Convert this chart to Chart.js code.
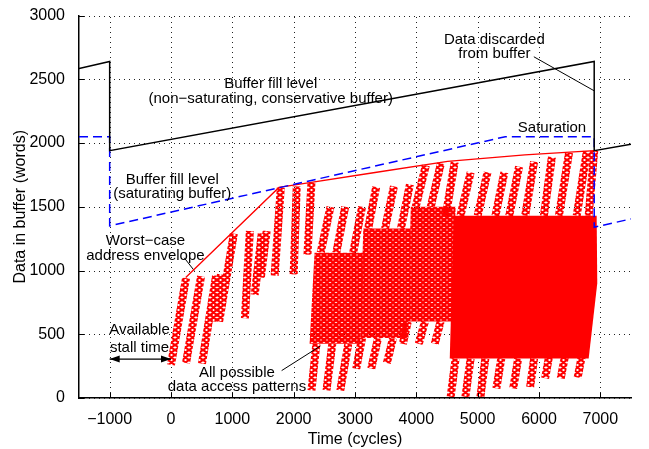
<!DOCTYPE html>
<html>
<head>
<meta charset="utf-8">
<script src="https://cdn.jsdelivr.net/npm/chart.js@4.4.0/dist/chart.umd.min.js"></script>
<style>
    body { margin: 0; background: #fff; }
</style>
</head>
<body>
<canvas id="myChart" width="649" height="449"></canvas>
<script>
// tick values
var xTicks = [-1000, 0, 1000, 2000, 3000, 4000, 5000, 6000, 7000];
var yTicks = [0, 500, 1000, 1500, 2000, 2500, 3000];

// buffer fill level, non-saturating (conservative) buffer
var fillTime  = [-1500, -1000, -1000, 6900, 6900, 7500];
var fillLevel = [2585, 2640, 1940, 2640, 1940, 1990];

// buffer fill level, saturating buffer
var satTime  = [-1500, -1000, -1000, 5450, 6900, 6900, 7500];
var satLevel = [2050, 2050, 1350, 2050, 2050, 1340, 1405];

// worst-case address envelope
var envTime  = [240, 1760, 2260, 3300, 4510, 5770, 6900];
var envLevel = [945, 1652, 1690, 1767, 1856, 1908, 1940];

// single access patterns: [start time, start word, end time, end word]
var accessRuns = [
    [0, 260, 245, 940], [245, 275, 490, 955], [505, 270, 735, 960],
    [700, 600, 815, 970], [785, 600, 1025, 1290], [1205, 625, 1285, 1310],
    [1365, 810, 1480, 1290], [1465, 945, 1560, 1310], [1690, 960, 1790, 1650],
    [2000, 970, 2050, 1660], [2225, 1125, 2290, 1690],
    [2440, 1140, 2600, 1500], [2695, 1140, 2840, 1500], [2970, 1140, 3115, 1500],
    [3215, 1330, 3345, 1655], [3490, 1330, 3635, 1660], [3750, 1330, 3895, 1675],
    [3990, 1500, 4155, 1825], [4235, 1500, 4400, 1840], [4480, 1430, 4625, 1850],
    [4720, 1430, 4885, 1770], [5000, 1430, 5160, 1770], [5290, 1430, 5435, 1770],
    [5515, 1430, 5675, 1815], [5775, 1430, 5920, 1855], [6080, 1430, 6210, 1890],
    [6325, 1430, 6490, 1925], [6615, 1430, 6780, 1935], [6810, 1430, 6900, 1940],
    [2290, 60, 2370, 425], [2535, 60, 2630, 425], [2760, 60, 2890, 425],
    [3020, 230, 3115, 470], [3265, 230, 3375, 470], [3520, 275, 3620, 470],
    [3780, 425, 3860, 600], [4040, 425, 4140, 600], [4300, 425, 4395, 600],
    [4560, 10, 4640, 310], [4800, 10, 4885, 310], [5045, 10, 5125, 310],
    [5305, 75, 5385, 310], [5580, 75, 5660, 310], [5855, 85, 5920, 310],
    [6100, 155, 6180, 370], [6355, 155, 6440, 370], [6630, 160, 6715, 370]
];

// overlapping access patterns (corner points)
var overlapRuns = [
    [[2260, 425], [3085, 425], [3150, 1140], [2340, 1140]],
    [[3085, 470], [3860, 470], [3910, 1330], [3135, 1330]],
    [[3860, 600], [4590, 600], [4640, 1500], [3910, 1500]]
];
var saturatedRun = [[4545, 310], [6810, 310], [6950, 900], [6940, 1430], [4610, 1430]];

// available stall time arrow
var stallTime  = [-1000, 0];
var stallLevel = [305, 305];

// annotation leader lines
var leaders = [
    [[216, 1100], [378, 1000]],
    [[1804, 215], [2436, 408]],
    [[5916, 2677], [6900, 2410]]
];

var notes = [
    { text: 'Buffer fill level', t: 1626, v: 2462 },
    { text: '(non\u2212saturating, conservative buffer)', t: 1626, v: 2346 },
    { text: 'Data discarded', t: 5272, v: 2808 },
    { text: 'from buffer', t: 5272, v: 2700 },
    { text: 'Saturation', t: 6212, v: 2123 },
    { text: 'Buffer fill level', t: 21, v: 1715 },
    { text: '(saturating buffer)', t: 21, v: 1600 },
    { text: 'Worst\u2212case', t: -417, v: 1231 },
    { text: 'address envelope', t: -417, v: 1115 },
    { text: 'Available', t: -514, v: 538 },
    { text: 'stall time', t: -514, v: 392 },
    { text: 'All possible', t: 1075, v: 200 },
    { text: 'data access patterns', t: 1075, v: 85 }
];

var FONT = '"Liberation Sans", Arial, Helvetica, sans-serif';

function toPoints(xs, ys) {
    return xs.map(function (x, i) { return { x: x, y: ys[i] }; });
}

// red "x" marker tile
function makeCrossPattern(w, h, lw) {
    var c = document.createElement('canvas');
    c.width = w;
    c.height = h;
    var g = c.getContext('2d');
    g.strokeStyle = '#ff0000';
    g.lineWidth = lw;
    g.beginPath();
    for (var dx = -w; dx <= w; dx += w) {
        for (var dy = -h; dy <= h; dy += h) {
            g.moveTo(dx, dy); g.lineTo(dx + w, dy + h);
            g.moveTo(dx + w, dy); g.lineTo(dx, dy + h);
        }
    }
    g.stroke();
    return g.createPattern(c, 'repeat');
}

var chainPattern = makeCrossPattern(7, 5, 2.2);
var densePattern = makeCrossPattern(6, 5, 2.6);

var datasets = [];

datasets.push({ data: toPoints(fillTime, fillLevel), borderColor: '#000000', borderWidth: 1.5 });
datasets.push({ data: toPoints(satTime, satLevel), borderColor: '#0000ff', borderWidth: 1.5, borderDash: [9, 5] });
datasets.push({ data: toPoints(envTime, envLevel), borderColor: '#ff0000', borderWidth: 1.3 });

leaders.forEach(function (l) {
    datasets.push({ data: l.map(function (p) { return { x: p[0], y: p[1] }; }), borderColor: '#000000', borderWidth: 1 });
});

var arrowIndex = datasets.length;
datasets.push({ data: toPoints(stallTime, stallLevel), borderColor: '#000000', borderWidth: 1.2 });

accessRuns.forEach(function (r) {
    datasets.push({
        data: [{ x: r[0], y: r[1] }, { x: r[2], y: r[3] }],
        borderColor: chainPattern,
        borderWidth: 8,
        borderCapStyle: 'butt'
    });
});

overlapRuns.forEach(function (poly) {
    datasets.push({
        data: poly.map(function (p) { return { x: p[0], y: p[1] }; }),
        borderWidth: 0,
        borderColor: 'rgba(0,0,0,0)',
        backgroundColor: densePattern,
        fill: 'shape'
    });
});

datasets.push({
    data: saturatedRun.map(function (p) { return { x: p[0], y: p[1] }; }),
    borderWidth: 0,
    borderColor: 'rgba(0,0,0,0)',
    backgroundColor: '#ff0000',
    fill: 'shape'
});

var overlay = {
    id: 'overlay',
    beforeDatasetsDraw: function (chart) {
        // dotted grid
        var ctx = chart.ctx;
        var xs = chart.scales.x;
        var ys = chart.scales.y;
        var area = chart.chartArea;
        ctx.save();
        ctx.strokeStyle = '#222';
        ctx.lineWidth = 1;
        ctx.setLineDash([1, 4]);
        ctx.beginPath();
        xTicks.forEach(function (v) {
            var px = Math.round(xs.getPixelForValue(v)) + 0.5;
            ctx.moveTo(px, area.bottom);
            ctx.lineTo(px, area.top);
        });
        yTicks.forEach(function (v) {
            var py = Math.round(ys.getPixelForValue(v)) + 0.5;
            ctx.moveTo(area.left, py);
            ctx.lineTo(area.right, py);
        });
        ctx.stroke();
        ctx.restore();
    },
    afterDatasetsDraw: function (chart) {
        var ctx = chart.ctx;
        var xs = chart.scales.x;
        var ys = chart.scales.y;
        var area = chart.chartArea;
        ctx.save();

        // inward tick marks
        ctx.strokeStyle = '#000';
        ctx.lineWidth = 1;
        ctx.beginPath();
        xTicks.forEach(function (v) {
            var px = Math.round(xs.getPixelForValue(v)) + 0.5;
            ctx.moveTo(px, area.bottom);
            ctx.lineTo(px, area.bottom - 5);
        });
        yTicks.forEach(function (v) {
            var py = Math.round(ys.getPixelForValue(v)) + 0.5;
            ctx.moveTo(area.left, py);
            ctx.lineTo(area.left + 5, py);
        });
        ctx.stroke();

        // arrow heads
        var pts = chart.getDatasetMeta(arrowIndex).data;
        ctx.fillStyle = '#000';
        [[pts[0], 1], [pts[1], -1]].forEach(function (a) {
            var p = a[0], d = a[1];
            ctx.beginPath();
            ctx.moveTo(p.x, p.y);
            ctx.lineTo(p.x + d * 10, p.y - 3.5);
            ctx.lineTo(p.x + d * 10, p.y + 3.5);
            ctx.closePath();
            ctx.fill();
        });

        // text notes
        ctx.font = '15px ' + FONT;
        ctx.fillStyle = '#000';
        ctx.textAlign = 'center';
        ctx.textBaseline = 'middle';
        notes.forEach(function (n) {
            ctx.fillText(n.text, xs.getPixelForValue(n.t), ys.getPixelForValue(n.v));
        });
        ctx.restore();
    }
};

var ctx = document.getElementById('myChart').getContext('2d');
var myChart = new Chart(ctx, {
    type: 'line',
    data: { datasets: datasets },
    plugins: [overlay],
    options: {
        responsive: false,
        animation: false,
        events: [],
        layout: { padding: { top: 8, right: 18, bottom: 0, left: 0 } },
        elements: {
            point: { radius: 0 },
            line: { tension: 0, fill: false }
        },
        plugins: {
            legend: { display: false },
            tooltip: { enabled: false }
        },
        scales: {
            x: {
                type: 'linear',
                min: -1500,
                max: 7500,
                afterBuildTicks: function (scale) {
                    scale.ticks = xTicks.map(function (v) { return { value: v }; });
                },
                afterFit: function (scale) { scale.height = 51; },
                ticks: {
                    color: '#000',
                    padding: 4,
                    maxRotation: 0,
                    font: { size: 16, family: FONT },
                    callback: function (v) { return v < 0 ? '\u2212' + Math.abs(v) : String(v); }
                },
                grid: { display: false },
                border: { display: true, color: '#000', width: 1.5 },
                title: {
                    display: true,
                    text: 'Time (cycles)',
                    color: '#000',
                    font: { size: 16, family: FONT },
                    padding: { top: 0, bottom: 0 }
                }
            },
            y: {
                type: 'linear',
                min: 0,
                max: 3000,
                afterBuildTicks: function (scale) {
                    scale.ticks = yTicks.map(function (v) { return { value: v }; });
                },
                afterFit: function (scale) { scale.width = 79; },
                ticks: {
                    color: '#000',
                    padding: 6,
                    font: { size: 16, family: FONT },
                    callback: function (v) { return String(v); }
                },
                grid: { display: false },
                border: { display: true, color: '#000', width: 1.5 },
                title: {
                    display: true,
                    text: 'Data in buffer (words)',
                    color: '#000',
                    font: { size: 16, family: FONT },
                    padding: { top: 11, bottom: 0 }
                }
            }
        }
    }
});
</script>
</body>
</html>
